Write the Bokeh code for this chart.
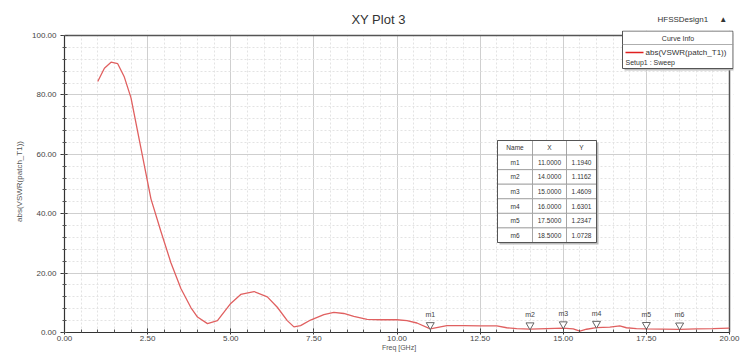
import numpy as np
from bokeh.plotting import figure
from bokeh.models import Range1d, FixedTicker, PrintfTickFormatter, Label
from bokeh.core.properties import value
from bokeh.embed import file_html
from bokeh.resources import INLINE

# ---------------- data ----------------
freq = [1.0, 1.2, 1.4, 1.6, 1.8, 2.0, 2.3, 2.6, 2.9, 3.2, 3.5, 3.8, 4.0, 4.3, 4.6,
        5.0, 5.3, 5.7, 6.1, 6.4, 6.7, 6.9, 7.1, 7.4, 7.8, 8.1, 8.4, 8.7, 9.1, 9.5,
        10.0, 10.3, 10.6, 11.0, 11.5, 12.0, 12.5, 13.0, 13.3, 13.6, 14.0, 14.5,
        15.0, 15.3, 15.5, 15.7, 16.0, 16.4, 16.7, 16.9, 17.2, 17.5, 18.0, 18.5,
        19.0, 19.5, 20.0]
vswr = [84.5, 89.0, 91.0, 90.5, 86.0, 79.0, 62.0, 45.0, 34.0, 23.5, 14.8, 8.4, 5.2, 3.0, 4.0,
        9.8, 12.8, 13.8, 12.0, 8.5, 4.0, 1.9, 2.3, 4.2, 6.0, 6.8, 6.4, 5.4, 4.4, 4.3,
        4.3, 4.0, 3.2, 1.19, 2.3, 2.3, 2.2, 2.2, 1.6, 1.3, 1.12, 1.3,
        1.46, 1.2, 0.45, 1.1, 1.63, 1.8, 2.2, 1.6, 1.3, 1.23, 1.15, 1.07,
        1.2, 1.3, 1.5]

marker_names = ["m1", "m2", "m3", "m4", "m5", "m6"]
marker_x = [11.0, 14.0, 15.0, 16.0, 17.5, 18.5]
marker_y = [1.1940, 1.1162, 1.4609, 1.6301, 1.2347, 1.0728]

x_ticks = [0.0, 2.5, 5.0, 7.5, 10.0, 12.5, 15.0, 17.5, 20.0]
y_ticks = [0, 20, 40, 60, 80, 100]

title_text = "XY Plot 3"
design_text = "HFSSDesign1"
logo_text = "\u25B2"
curve_text = "abs(VSWR(patch_T1))"
setup_text = "Setup1 : Sweep"
legend_title = "Curve Info"
x_label = "Freq [GHz]"
y_label = "abs(VSWR(patch_T1))"
table_header = ["Name", "X", "Y"]

# ---------------- geometry (pixels) ----------------
W, H = 752, 353
AL, AR, AT, AB = 64, 729, 35, 332          # where 0..20 / 0..100 lie
FR_EXT, FT_EXT = 733, 30                   # frame extended for the legend box
X0, X1, Y0, Y1 = 0.0, 20.0, 0.0, 100.0


def dx(px):
    return X0 + (px - AL) / (AR - AL) * (X1 - X0)


def dy(py):
    return Y0 + (AB - py) / (AB - AT) * (Y1 - Y0)


XMAX, YMAX = dx(FR_EXT), dy(FT_EXT)
FONT = "Liberation Sans"

p = figure(width=W, height=H, x_range=Range1d(X0, XMAX), y_range=Range1d(Y0, YMAX),
           output_backend="svg", toolbar_location=None,
           min_border_left=AL, min_border_right=W - FR_EXT,
           min_border_top=FT_EXT, min_border_bottom=H - AB)

p.background_fill_color = "white"
p.border_fill_color = "white"
p.outline_line_color = None

x_minor = list(np.arange(0, 20.001, 0.5))
y_minor = list(np.arange(0, 100.001, 4))
p.xaxis.ticker = FixedTicker(ticks=x_ticks, minor_ticks=x_minor)
p.yaxis.ticker = FixedTicker(ticks=y_ticks, minor_ticks=y_minor)
p.xgrid.ticker = p.xaxis.ticker
p.ygrid.ticker = p.yaxis.ticker
p.xaxis.formatter = PrintfTickFormatter(format="%.2f")
p.yaxis.formatter = PrintfTickFormatter(format="%.2f")
p.xaxis.bounds = (X0, X1)
p.yaxis.bounds = (Y0, Y1)

for g in (p.xgrid, p.ygrid):
    g.grid_line_color = "#cfcfcf"
    g.grid_line_width = 1
    g.minor_grid_line_color = "#e3e3e3"
    g.minor_grid_line_dash = "2 2"

for ax in (p.xaxis, p.yaxis):
    ax.axis_line_color = "#333333"
    ax.axis_line_width = 1.2
    ax.major_tick_line_color = "#333333"
    ax.minor_tick_line_color = "#555555"
    ax.major_label_text_font = FONT
    ax.major_label_text_font_size = "8px"
    ax.major_label_text_color = "#444444"
    ax.axis_label_text_font = FONT
    ax.axis_label_text_font_style = "normal"
    ax.axis_label_text_color = "#555555"

p.xaxis.major_tick_in = 4
p.xaxis.major_tick_out = 2
p.xaxis.minor_tick_in = 3
p.xaxis.minor_tick_out = 0
p.xaxis.major_label_standoff = 1
p.xaxis.axis_label = x_label
p.xaxis.axis_label_text_font_size = "7px"
p.xaxis.axis_label_standoff = 0

p.yaxis.major_tick_in = 3
p.yaxis.major_tick_out = 4
p.yaxis.minor_tick_in = 2
p.yaxis.minor_tick_out = 2
p.yaxis.major_label_standoff = 4
p.yaxis.axis_label = y_label
p.yaxis.axis_label_text_font_size = "8px"
p.yaxis.axis_label_standoff = 5

# mask the strips of frame outside 0..20 / 0..100 and draw the box border
p.quad(left=[X0, X1], right=[XMAX, XMAX], bottom=[Y1, Y0], top=[YMAX, YMAX],
       fill_color="white", line_color=None)
p.segment(x0=[X0, X1], x1=[X1, X1], y0=[Y1, Y0], y1=[Y1, Y1],
          line_color="#555555", line_width=1.5)

# ---------------- curve ----------------
p.line(freq, vswr, line_color="#e06060", line_width=1.3)

# ---------------- markers ----------------
tri_shift = dy(AB - 4) - dy(AB)
p.scatter(marker_x, [v + tri_shift for v in marker_y], marker="inverted_triangle",
          size=8, fill_color="white", line_color="#666666", line_width=1)
p.text(marker_x, marker_y, text=marker_names, y_offset=-11, text_align="center",
       text_baseline="bottom", text_font=value(FONT), text_font_size="7px",
       text_color="#444444")

# ---------------- marker table ----------------
tl, tr, tt, tb = 497, 596, 140, 242
col_edges = [tl, 532, 566, tr]
nrows = len(marker_names) + 1
rh = (tb - tt) / nrows
cells_l, cells_r, cells_t, cells_b = [], [], [], []
txt_x, txt_y, txt = [], [], []
rows = [table_header] + [[n, "%.4f" % xv, "%.4f" % yv]
                         for n, xv, yv in zip(marker_names, marker_x, marker_y)]
for r, row in enumerate(rows):
    for c in range(3):
        l, rr = col_edges[c], col_edges[c + 1]
        t, b = tt + r * rh, tt + (r + 1) * rh
        cells_l.append(dx(l)); cells_r.append(dx(rr))
        cells_t.append(dy(t)); cells_b.append(dy(b))
        txt_x.append(dx((l + rr) / 2)); txt_y.append(dy((t + b) / 2))
        txt.append(row[c])
p.quad(left=[dx(tl + 2)], right=[dx(tr + 2)], top=[dy(tt + 2)], bottom=[dy(tb + 2)],
       fill_color="#bbbbbb", line_color=None)
p.quad(left=cells_l, right=cells_r, top=cells_t, bottom=cells_b,
       fill_color="white", line_color="#9a9a9a", line_width=0.8)
p.quad(left=[dx(tl)], right=[dx(tr)], top=[dy(tt)], bottom=[dy(tb)],
       fill_color=None, line_color="#555555", line_width=1)
p.text(txt_x, txt_y, text=txt, text_align="center", text_baseline="middle",
       text_font=value(FONT), text_font_size="6.5px", text_color="#333333")

# ---------------- legend box ----------------
lb_l, lb_r, lb_t, lb_b = 622, 733, 30, 68
p.quad(left=[dx(lb_l + 2)], right=[dx(lb_r + 2)], top=[dy(lb_t + 2)], bottom=[dy(lb_b + 2)],
       fill_color="#bbbbbb", line_color=None)
p.quad(left=[dx(lb_l)], right=[dx(lb_r - 0.5)], top=[dy(lb_t + 0.5)], bottom=[dy(lb_b)],
       fill_color="white", line_color="#555555", line_width=1)
p.segment(x0=[dx(lb_l)], x1=[dx(lb_r)], y0=[dy(44)], y1=[dy(44)],
          line_color="#999999", line_width=0.8)
p.segment(x0=[dx(625)], x1=[dx(643)], y0=[dy(52)], y1=[dy(52)],
          line_color="#e02020", line_width=1.5)
p.text([dx((lb_l + lb_r) / 2), dx(645), dx(625)], [dy(37.5), dy(52), dy(61.5)],
       text=[legend_title, curve_text, setup_text],
       text_align=["center", "left", "left"], text_baseline="middle",
       text_font=value(FONT), text_font_size=["7px", "8px", "7px"],
       text_color="#333333")

# ---------------- titles (in the panel above the frame) ----------------
# Labels in a side panel are stacked outward; screen coords in each slot:
# x from frame left, y up from the slot's bottom edge.
p.add_layout(Label(x=657 - AL, y=FT_EXT - 19, x_units="screen", y_units="screen",
                   text=design_text + "\u00a0" * 5 + logo_text, text_font=FONT,
                   text_font_size="8px", text_align="left", text_baseline="middle",
                   text_color="#333333"), "above")

SLOT1 = 8   # height taken by the first label's slot
p.add_layout(Label(x=378 - AL, y=(FT_EXT - SLOT1) - 20, x_units="screen", y_units="screen",
                   text=title_text, text_font=FONT, text_font_size="13px",
                   text_align="center", text_baseline="middle", text_color="#333333"),
             "above")

open("out.html", "w").write(file_html(p, INLINE))
